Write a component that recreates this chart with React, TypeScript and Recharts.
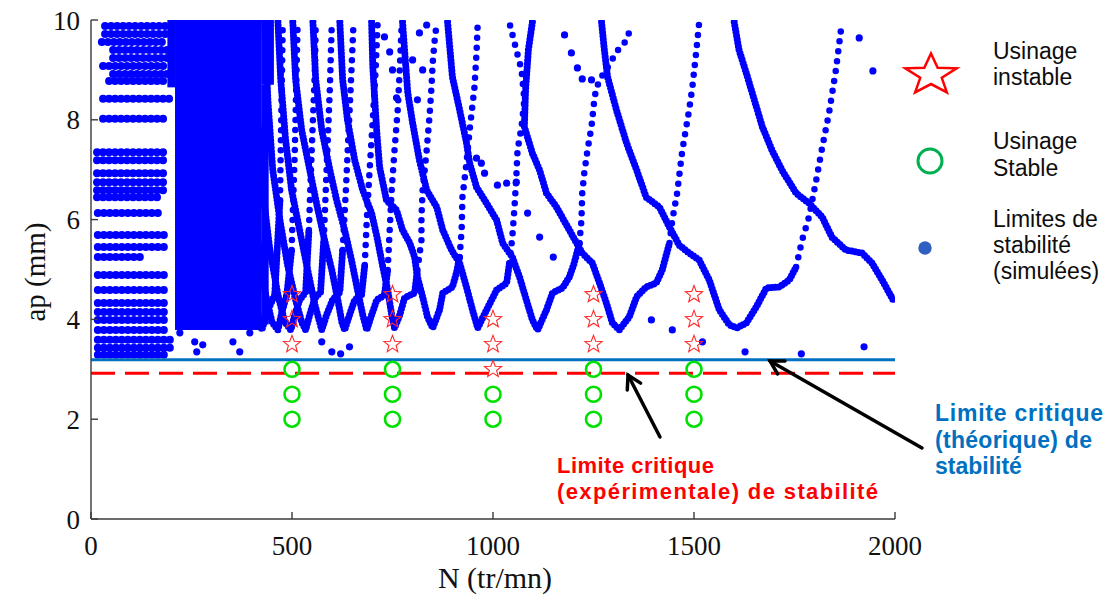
import React from 'react';
import {
  ComposedChart,
  Line,
  Scatter,
  XAxis,
  YAxis,
  ReferenceArea,
  ReferenceLine
} from 'recharts';

const W = 1111;
const H = 599;
const BLUE = '#0000ff';

const xTicks = [0, 500, 1000, 1500, 2000];
const yTicks = [0, 2, 4, 6, 8, 10];

// essais d'usinage [N, ap]
const unstableTests = [
  [500, 4.5], [500, 4], [500, 3.5],
  [750, 4.5], [750, 4], [750, 3.5],
  [1000, 4], [1000, 3.5], [1000, 3],
  [1250, 4.5], [1250, 4], [1250, 3.5],
  [1500, 4.5], [1500, 4], [1500, 3.5]
];
const stableTests = [
  [500, 3], [500, 2.5], [500, 2],
  [750, 3], [750, 2.5], [750, 2],
  [1000, 2.5], [1000, 2],
  [1250, 3], [1250, 2.5], [1250, 2],
  [1500, 3], [1500, 2.5], [1500, 2]
];

const limitTheorique = 3.19;
const limitExperimentale = 2.92;

// rows of simulated points at low speed [ap, Nstart, Nend]
const leftRows = [
  [9.88, 35, 191], [9.72, 35, 191], [9.56, 27, 191], [9.4, 55, 191],
  [9.24, 55, 191], [9.08, 30, 191], [8.92, 55, 191], [8.78, 45, 191],
  [8.42, 30, 196], [8.02, 30, 189],
  [7.35, 15, 180], [7.19, 15, 185], [6.93, 15, 180], [6.75, 15, 185],
  [6.59, 15, 180], [6.45, 15, 170], [6.13, 17, 171],
  [5.69, 17, 196], [5.45, 17, 190], [5.25, 17, 127], [4.89, 17, 186],
  [4.59, 17, 190], [4.33, 17, 196], [4.15, 17, 196], [3.99, 17, 196],
  [3.79, 17, 196], [3.59, 17, 205], [3.43, 17, 205], [3.29, 17, 196]
];

// dense zone of overlapping lobes [N1, N2, ap1, ap2]
const denseZones = [
  [209, 425, 3.79, 10],
  [190, 209, 8.65, 10],
  [425, 455, 8.7, 10],
  [425, 442, 3.9, 8.7]
];

// lobes: dense part (descent + bottom) and sparse rising part [N, ap]
const lobeM = [[360, 9.96], [370, 7.39], [385, 5.59], [407, 4.39], [425, 3.79], [440, 4.19], [457, 4.49], [470, 6.39]];
const riseM = [[470, 6.39], [477, 9.94]];
const lobeL = [[383, 9.96], [395, 7.39], [412, 5.79], [432, 4.59], [450, 3.95], [465, 3.79], [475, 4.15], [487, 4.49], [499, 5.39]];
const riseL = [[499, 5.39], [507, 7.39], [514, 9.94]];
const lobeK = [[407, 9.96], [415, 8.0], [427, 6.59], [445, 5.39], [465, 4.49], [482, 3.95], [497, 3.79], [507, 4.09], [519, 4.39], [534, 4.55], [542, 5.79]];
const riseK = [[542, 5.79], [549, 7.39], [557, 9.0], [559, 9.94]];
const lobeJ = [[432, 9.96], [440, 8.4], [452, 7.0], [470, 5.99], [489, 5.09], [509, 4.39], [524, 3.95], [534, 3.79], [544, 4.09], [557, 4.43], [571, 4.55], [579, 5.59]];
const riseJ = [[579, 5.59], [586, 6.99], [594, 8.6], [599, 9.94]];
const lobeI = [[465, 9.96], [472, 8.8], [484, 7.6], [499, 6.59], [519, 5.79], [539, 4.99], [557, 4.29], [574, 3.79], [586, 4.09], [601, 4.39], [619, 4.55], [626, 5.39]];
const riseI = [[626, 5.39], [634, 6.59], [641, 7.8], [648, 9.0], [653, 9.94]];
const lobeH = [[502, 9.96], [509, 8.8], [524, 7.8], [544, 7.0], [562, 6.29], [581, 5.59], [599, 4.99], [614, 4.39], [624, 3.95], [631, 3.79], [643, 4.09], [656, 4.39], [673, 4.49], [681, 5.09]];
const riseH = [[681, 5.09], [686, 5.99], [693, 6.99], [701, 8.0], [708, 9.0], [713, 9.94]];
const lobeG = [[552, 9.96], [559, 8.8], [574, 7.8], [594, 7.0], [611, 6.39], [631, 5.79], [648, 5.19], [663, 4.59], [676, 4.09], [686, 3.79], [698, 4.09], [711, 4.39], [730, 4.49], [738, 4.99]];
const riseG = [[738, 4.99], [743, 5.79], [748, 6.59], [755, 7.39], [763, 8.2], [768, 9.0], [773, 9.94]];
const lobeF = [[619, 9.96], [626, 8.8], [638, 8.0], [656, 7.19], [676, 6.59], [698, 6.13], [713, 5.59], [725, 5.09], [738, 4.59], [748, 4.09], [755, 3.83], [768, 4.09], [780, 4.43], [805, 4.53], [812, 4.99]];
const riseF = [[812, 4.99], [822, 5.59], [822, 6.05], [825, 6.59], [835, 7.39], [842, 8.06], [847, 8.66], [850, 9.14], [855, 9.6], [860, 9.94]];
const lobeE = [[698, 9.96], [701, 9.06], [706, 8.4], [711, 7.74], [718, 7.05], [735, 6.39], [760, 6.19], [775, 5.79], [793, 5.53], [805, 5.25], [812, 4.85], [825, 4.45], [837, 4.05], [850, 3.83], [867, 4.19], [875, 4.53], [899, 4.65], [909, 4.93], [917, 5.25]];
const riseE = [[917, 5.25], [922, 5.79], [924, 6.45], [934, 7.13], [942, 7.8], [954, 8.66], [959, 9.34], [962, 9.94]];
const lobeD = [[775, 9.96], [780, 9.4], [788, 8.54], [800, 7.94], [817, 7.19], [835, 6.59], [860, 6.25], [875, 5.79], [897, 5.39], [917, 5.13], [934, 4.65], [949, 4.19], [962, 3.83], [984, 4.19], [1009, 4.59], [1034, 4.73], [1041, 5.13]];
const riseD = [[1041, 5.13], [1048, 5.65], [1053, 6.19], [1058, 6.85], [1061, 7.39], [1071, 7.86], [1078, 8.4], [1071, 9.0], [1058, 9.4], [1041, 9.94]];
const lobeC = [[887, 9.96], [899, 8.86], [917, 8.2], [934, 7.54], [942, 7.13], [959, 6.65], [984, 6.33], [1009, 5.99], [1024, 5.53], [1048, 5.25], [1066, 4.85], [1083, 4.39], [1098, 3.99], [1111, 3.79], [1133, 4.19], [1148, 4.53], [1173, 4.63], [1190, 4.85], [1202, 5.13], [1215, 5.53]];
const riseC = [[1215, 5.53], [1220, 5.99], [1222, 6.53], [1227, 6.93], [1235, 7.39], [1245, 7.86], [1252, 8.4], [1257, 8.64], [1270, 8.86], [1289, 9.1], [1307, 9.36], [1327, 9.54], [1347, 9.9]];
const lobeB = [[1098, 9.96], [1088, 9.4], [1081, 8.6], [1078, 7.86], [1098, 7.33], [1116, 6.99], [1133, 6.53], [1158, 6.25], [1190, 5.79], [1222, 5.33], [1247, 5.13], [1265, 4.73], [1282, 4.33], [1297, 3.93], [1314, 3.79], [1339, 4.05], [1357, 4.45], [1381, 4.65], [1406, 4.73], [1421, 4.99], [1439, 5.53]];
const riseB = [[1439, 5.53], [1446, 5.99], [1458, 6.53], [1471, 7.39], [1488, 8.2], [1496, 8.66], [1506, 9.4], [1513, 9.96]];
const lobeA = [[1270, 9.96], [1277, 9.4], [1285, 8.86], [1307, 8.2], [1332, 7.54], [1357, 7.0], [1381, 6.45], [1414, 6.25], [1439, 5.85], [1463, 5.49], [1488, 5.33], [1513, 5.19], [1538, 4.79], [1563, 4.19], [1588, 3.89], [1607, 3.83], [1630, 3.93], [1655, 4.25], [1680, 4.63], [1712, 4.65], [1737, 4.79], [1754, 5.05]];
const riseA = [[1754, 5.05], [1769, 5.59], [1786, 6.05], [1804, 6.79], [1819, 7.45], [1836, 8.14], [1853, 9.0], [1868, 9.96]];
const lobeZ = [[1600, 9.96], [1612, 9.4], [1630, 8.94], [1650, 8.4], [1670, 7.86], [1694, 7.39], [1719, 6.99], [1754, 6.53], [1786, 6.33], [1819, 6.05], [1843, 5.65], [1878, 5.39], [1918, 5.33], [1943, 5.13], [1968, 4.79], [1998, 4.35]];

const denseBranches = [lobeM, lobeL, lobeK, lobeJ, lobeI, lobeH, lobeG, lobeF, lobeE, lobeD, lobeC, lobeB, lobeA, lobeZ];
const sparseBranches = [riseM, riseL, riseK, riseJ, riseI, riseH, riseG, riseF, riseE, riseD, riseC, riseB, riseA];

// isolated simulated points [N, ap]
const strayDots = [
  [221, 3.73], [258, 3.55], [263, 3.35], [278, 3.49], [353, 3.55], [370, 3.35], [395, 3.73],
  [574, 3.55], [599, 3.35], [621, 3.31], [643, 3.45],
  [1394, 3.99], [1446, 3.79], [1521, 3.55], [1627, 3.35], [1767, 3.31], [1923, 3.45],
  [1911, 9.64], [1945, 8.98],
  [1178, 9.7], [1195, 9.34], [1210, 9.04], [1222, 8.82], [1245, 8.8],
  [1116, 5.65], [1150, 5.25], [1086, 6.13], [1011, 6.69], [1034, 6.73], [1058, 6.75],
  [979, 6.93], [971, 7.13], [959, 7.23],
  [825, 9.0], [812, 8.4], [760, 8.44], [730, 9.66], [743, 9.36], [750, 9.0],
  [800, 9.2], [817, 9.74], [835, 9.9]
];

const toPts = (arr: number[][]) => arr.map(([N, ap]) => ({ N, ap }));

function starPath(cx: number, cy: number, rx: number, ry: number, inner: number) {
  const pts: string[] = [];
  for (let i = 0; i < 10; i++) {
    const a = -Math.PI / 2 + (i * Math.PI) / 5;
    const r = i % 2 === 0 ? 1 : inner;
    pts.push(`${(cx + Math.cos(a) * rx * r).toFixed(2)},${(cy + Math.sin(a) * ry * r).toFixed(2)}`);
  }
  return 'M' + pts.join('L') + 'Z';
}

function Arrow({ x1, y1, x2, y2 }: { x1: number; y1: number; x2: number; y2: number }) {
  // tail (x1,y1) -> tip (x2,y2)
  const len = Math.hypot(x1 - x2, y1 - y2);
  const ux = (x1 - x2) / len;
  const uy = (y1 - y2) / len;
  const h = 15;
  const c = Math.cos(Math.PI / 6);
  const s = Math.sin(Math.PI / 6);
  const ax = x2 + h * (ux * c - uy * s);
  const ay = y2 + h * (ux * s + uy * c);
  const bx = x2 + h * (ux * c + uy * s);
  const by = y2 + h * (-ux * s + uy * c);
  return (
    <g stroke="#000" strokeWidth={3.5} strokeLinecap="round" fill="none">
      <line x1={x1} y1={y1} x2={x2} y2={y2} />
      <polyline points={`${ax},${ay} ${x2},${y2} ${bx},${by}`} />
    </g>
  );
}

const axisStroke = { stroke: '#3a3a3a', strokeWidth: 1.4 };
const tickFont = { fontFamily: 'Liberation Serif', fontSize: 27, fill: '#111' };

export default function App() {
  return (
    <div style={{ position: 'absolute', left: 0, top: 0, width: W, height: H, background: '#fff' }}>
      <ComposedChart width={W} height={H} margin={{ top: 20, right: 216, bottom: 10, left: 0 }}>
        <XAxis
          type="number"
          dataKey="N"
          domain={[0, 2000]}
          ticks={xTicks}
          height={70}
          tickSize={-7}
          tickMargin={24}
          axisLine={axisStroke}
          tickLine={axisStroke}
          tick={tickFont}
          allowDataOverflow
        />
        <XAxis
          xAxisId="top"
          orientation="top"
          type="number"
          domain={[0, 2000]}
          ticks={[500, 1000, 1500]}
          height={0}
          tickSize={-7}
          tick={false}
          axisLine={axisStroke}
          tickLine={axisStroke}
        />
        <YAxis
          type="number"
          dataKey="ap"
          domain={[0, 10]}
          ticks={yTicks}
          width={91}
          tickSize={-7}
          tickMargin={18}
          axisLine={axisStroke}
          tickLine={axisStroke}
          tick={tickFont}
          allowDataOverflow
        />
        <YAxis
          yAxisId="right"
          orientation="right"
          type="number"
          domain={[0, 10]}
          ticks={[2, 4, 6, 8]}
          width={0}
          tickSize={-7}
          tick={false}
          axisLine={axisStroke}
          tickLine={axisStroke}
        />

        {denseZones.map(([n1, n2, a1, a2], i) => (
          <ReferenceArea key={`z${i}`} x1={n1} x2={n2} y1={a1} y2={a2} fill={BLUE} fillOpacity={1} stroke="none" />
        ))}

        {leftRows.map(([ap, n1, n2], i) => (
          <Line
            key={`r${i}`}
            data={[{ N: n1, ap }, { N: n2, ap }]}
            dataKey="ap"
            type="linear"
            stroke={BLUE}
            strokeWidth={8}
            strokeDasharray="0 6"
            strokeLinecap="round"
            dot={false}
            activeDot={false}
            isAnimationActive={false}
          />
        ))}

        {denseBranches.map((b, i) => (
          <Line
            key={`d${i}`}
            data={toPts(b)}
            dataKey="ap"
            type="linear"
            stroke={BLUE}
            strokeWidth={7}
            strokeDasharray="0 3.5"
            strokeLinecap="round"
            strokeLinejoin="round"
            dot={false}
            activeDot={false}
            isAnimationActive={false}
          />
        ))}

        {sparseBranches.map((b, i) => (
          <Line
            key={`s${i}`}
            data={toPts(b)}
            dataKey="ap"
            type="linear"
            stroke={BLUE}
            strokeWidth={6.5}
            strokeDasharray="0 10"
            strokeLinecap="round"
            dot={false}
            activeDot={false}
            isAnimationActive={false}
          />
        ))}

        <Scatter
          data={toPts(strayDots)}
          fill={BLUE}
          isAnimationActive={false}
          shape={(p: any) => <circle cx={p.cx} cy={p.cy} r={3.6} fill={BLUE} />}
        />

        <Scatter
          data={toPts(unstableTests)}
          isAnimationActive={false}
          shape={(p: any) => (
            <path d={starPath(p.cx, p.cy, 9, 9, 0.42)} fill="none" stroke="#ff2a2a" strokeWidth={1.1} />
          )}
        />
        <Scatter
          data={toPts(stableTests)}
          isAnimationActive={false}
          shape={(p: any) => (
            <circle cx={p.cx} cy={p.cy} r={7.5} fill="none" stroke="#00e000" strokeWidth={2.6} />
          )}
        />

        <ReferenceLine y={limitTheorique} stroke="#0070c0" strokeWidth={3} />
        <ReferenceLine y={limitExperimentale} stroke="#ff0000" strokeWidth={3} strokeDasharray="24 10" />
      </ComposedChart>

      <svg width={W} height={H} style={{ position: 'absolute', left: 0, top: 0, pointerEvents: 'none' }}>
        <text
          x={35}
          y={272}
          transform="rotate(-90 35 272)"
          textAnchor="middle"
          dominantBaseline="central"
          fontFamily="Liberation Serif"
          fontSize={29}
          fill="#111"
        >
          ap (mm)
        </text>
        <text x={495} y={588} textAnchor="middle" fontFamily="Liberation Serif" fontSize={30} fill="#111">
          N (tr/mn)
        </text>

        {/* legend */}
        <path d={starPath(931, 75, 27, 21.5, 0.42)} fill="none" stroke="#ff0000" strokeWidth={2.5} />
        <circle cx={930} cy={161} r={12} fill="none" stroke="#00b050" strokeWidth={3} />
        <circle cx={925} cy={248} r={6.7} fill="#2f5fbf" />
        <g fontFamily="Liberation Sans" fontSize={23} fill="#0d0d0d">
          <text x={993} y={59}>Usinage</text>
          <text x={993} y={85}>instable</text>
          <text x={993} y={149}>Usinage</text>
          <text x={993} y={176}>Stable</text>
          <text x={993} y={227}>Limites de</text>
          <text x={993} y={253}>stabilité</text>
          <text x={993} y={279}>(simulées)</text>
        </g>

        {/* annotations */}
        <g fontFamily="Liberation Sans" fontSize={22} fontWeight="bold" fill="#ff0000">
          <text x={557} y={473} textLength={157} lengthAdjust="spacing">Limite critique</text>
          <text x={557} y={499} textLength={321} lengthAdjust="spacing">(expérimentale) de stabilité</text>
        </g>
        <g fontFamily="Liberation Sans" fontSize={23} fontWeight="bold" fill="#0070c0">
          <text x={935} y={421} textLength={168} lengthAdjust="spacing">Limite critique</text>
          <text x={935} y={448} textLength={157} lengthAdjust="spacing">(théorique) de</text>
          <text x={935} y={474}>stabilité</text>
        </g>
        <Arrow x1={660} y1={437} x2={628} y2={375} />
        <Arrow x1={922} y1={448} x2={770} y2={361} />
      </svg>
    </div>
  );
}
